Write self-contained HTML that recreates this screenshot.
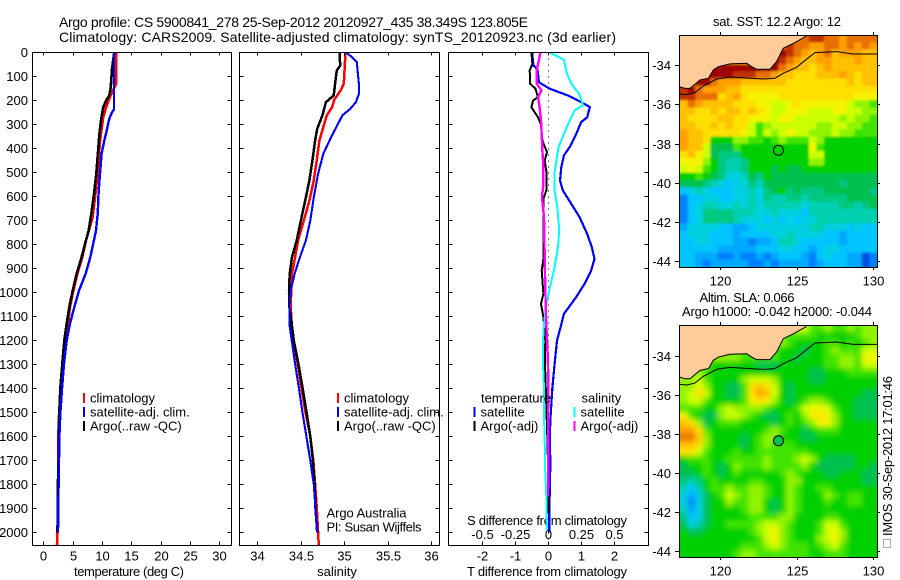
<!DOCTYPE html>
<html>
<head>
<meta charset="utf-8">
<title>Argo profile CS 5900841_278</title>
<style>
html,body{margin:0;padding:0;background:#fff;}
svg{display:block;font-family:"Liberation Sans",sans-serif;font-size:13px;fill:#000;}
text{fill:#000;}
</style>
</head>
<body>
<svg id="chart" width="900" height="580" viewBox="0 0 900 580" xmlns="http://www.w3.org/2000/svg">
<defs>
<filter id="sstBlur" x="-5%" y="-5%" width="110%" height="110%"><feGaussianBlur stdDeviation="1.1"/></filter>
<filter id="slaBlur" x="-5%" y="-5%" width="110%" height="110%"><feGaussianBlur stdDeviation="2.6"/></filter>
<clipPath id="sstClip"><rect x="680" y="35" width="197" height="232"/></clipPath>
<clipPath id="slaClip"><rect x="680" y="325" width="197" height="232"/></clipPath>
</defs>
<text x="59" y="27" font-size="14" textLength="469" lengthAdjust="spacing">Argo profile: CS 5900841_278 25-Sep-2012 20120927_435 38.349S 123.805E</text>
<text x="59" y="42" font-size="14" textLength="557" lengthAdjust="spacing">Climatology: CARS2009. Satellite-adjusted climatology: synTS_20120923.nc (3d earlier)</text>
<text x="129" y="576" text-anchor="middle" textLength="110" lengthAdjust="spacing">temperature (deg C)</text>
<text x="337" y="576" text-anchor="middle">salinity</text>
<text x="547" y="576" text-anchor="middle" textLength="160" lengthAdjust="spacing">T difference from climatology</text>
<text x="547" y="525" text-anchor="middle" textLength="160" lengthAdjust="spacing">S difference from climatology</text>
<text x="326.5" y="517.5" textLength="80" lengthAdjust="spacing">Argo Australia</text>
<text x="326.5" y="531.5" textLength="95" lengthAdjust="spacing">PI: Susan Wijffels</text>
<text x="777" y="26" font-size="13" text-anchor="middle" textLength="128" lengthAdjust="spacing">sat. SST: 12.2 Argo: 12</text>
<text x="747" y="302" font-size="13" text-anchor="middle" textLength="95" lengthAdjust="spacing">Altim. SLA: 0.066</text>
<text x="777" y="316" font-size="13" text-anchor="middle" textLength="190" lengthAdjust="spacing">Argo h1000: -0.042 h2000: -0.044</text>
<rect x="883.5" y="539.5" width="7" height="8" fill="none" stroke="#555" stroke-width="1" stroke-dasharray="1 1" shape-rendering="crispEdges"/>
<text transform="translate(892,536) rotate(-90)" textLength="160" lengthAdjust="spacing">IMOS 30-Sep-2012 17:01:46</text>
</svg>
<script>
// ---------- profile data (depth in dbar) ----------
const tempClimDepth = [0,130,186,228,270,367,505,603,686,783,853,922,1005,1061,1130,1200,1297,1401,1506,1600,1700,1800,1900,2000,2053];
const tempClim = [12.4,12.4,11.35,10.7,10.2,9.66,9.26,8.8,8.4,7.27,6.65,5.8,5.0,4.55,4.2,3.86,3.3,2.95,2.7,2.56,2.55,2.5,2.45,2.42,2.33];
const tempSatDepth = [0,150,237,249,276,325,367,422,505,575,672,742,797,853,922,992,1061,1130,1200,1297,1401,1506,1600,1700,1800,1900,2000];
const tempSat = [12.05,12.05,12.05,11.7,11.25,10.8,10.4,9.94,9.66,9.43,9.26,8.98,8.5,8.0,7.2,6.08,5.28,4.55,3.98,3.52,3.18,2.9,2.75,2.67,2.6,2.55,2.5];
const tempArgoDepth = [0,68,144,179,200,228,283,339,394,505,589,672,742,797,853,922,1005,1061,1130,1200,1297,1401,1506,1600,1700,1800,1900,2000];
const tempArgo = [12.1,11.7,11.5,11.25,10.7,10.2,9.83,9.55,9.38,9.03,8.64,8.18,7.73,7.1,6.53,5.68,4.89,4.43,3.98,3.58,3.24,2.9,2.73,2.6,2.6,2.48,2.45,2.42];

const salClimDepth = [0,130,158,194,228,262,311,367,436,533,617,700,783,853,922,992,1061,1130,1200,1297,1401,1506,1600,1700,1800,1900,2000,2053];
const salClim = [35.015,34.996,34.96,34.89,34.86,34.8,34.76,34.715,34.69,34.65,34.6,34.535,34.47,34.435,34.4,34.39,34.385,34.396,34.42,34.465,34.51,34.558,34.61,34.645,34.665,34.685,34.7,34.708];
const salSatDepth = [0,19,40,89,130,172,207,235,262,311,353,422,505,603,700,783,853,922,992,1061,1130,1200,1297,1401,1506,1600,1700,1800,1900,2000];
const salSat = [35.02,35.09,35.146,35.158,35.17,35.17,35.135,35.07,34.98,34.91,34.85,34.76,34.7,34.65,34.61,34.56,34.49,34.43,34.385,34.37,34.37,34.396,34.435,34.48,34.523,34.565,34.61,34.65,34.67,34.69];
const salArgoDepth = [0,54,75,130,179,207,262,318,367,436,533,603,686,783,853,922,992,1061,1130,1200,1297,1401,1506,1600,1700,1800,1900,2000];
const salArgo = [34.946,34.954,34.915,34.896,34.88,34.79,34.75,34.69,34.665,34.64,34.6,34.56,34.51,34.454,34.4,34.373,34.365,34.37,34.396,34.42,34.473,34.523,34.57,34.61,34.64,34.66,34.67,34.69];

const diffTempSatDepth = [0,54,68,124,151,179,214,228,270,290,339,394,429,478,533,575,630,686,756,811,860,908,964,1019,1089,1144,1200,1297,1401,1506,1600,1700,1800,1900,2000];
const diffTempSat = [-0.48,-0.44,-0.32,-0.27,0.05,0.6,1.1,1.26,1.18,1.0,0.85,0.65,0.48,0.4,0.36,0.45,0.7,0.95,1.18,1.32,1.4,1.3,1.1,0.85,0.48,0.38,0.27,0.2,0.13,0.08,0.05,0.07,0.06,0.04,0.04];
const diffTempArgoDepth = [0,47,75,130,151,186,200,228,270,297,367,415,450,505,575,610,714,853,908,1005,1047,1103,1200,1297,1600,1715,1800,1920];
const diffTempArgo = [-0.5,-0.47,-0.55,-0.54,-0.38,-0.3,-0.45,-0.5,-0.3,-0.22,-0.17,-0.03,-0.1,-0.04,-0.05,-0.14,-0.13,-0.13,-0.19,-0.14,-0.21,-0.14,-0.08,-0.09,-0.02,0,0.02,0.02];
const diffSalSatDepth = [0,17,31,89,130,172,220,241,276,339,394,450,505,575,644,742,811,894,964,1047,1130,1200,1297,1401,1506,1600,1715,1850,1990];
const diffSalSat = [0.0126,0.075,0.12,0.143,0.176,0.234,0.264,0.2,0.17,0.12,0.08,0.063,0.048,0.05,0.07,0.085,0.075,0.05,0.02,-0.013,-0.03,-0.038,-0.038,-0.03,-0.032,-0.025,-0.023,-0.013,-0.008];
const diffSalArgoDepth = [0,31,75,130,158,186,228,283,367,436,464,547,603,686,853,992,1130,1200,1297,1401,1506,1600,1715,1850];
const diffSalArgo = [-0.058,-0.068,-0.085,-0.085,-0.05,-0.075,-0.063,-0.053,-0.045,-0.04,-0.035,-0.035,-0.045,-0.03,-0.025,-0.02,-0.0125,-0.0075,0,0.002,0,0.002,0.002,0];

// ---------- tick labels ----------
const depthTicks = [0,100,200,300,400,500,600,700,800,900,1000,1100,1200,1300,1400,1500,1600,1700,1800,1900,2000];
const tempTicks = [0,5,10,15,20,25,30];
const salTicks = [34,34.5,35,35.5,36];
const diffTempTicks = [-2,-1,0,1,2];
const diffSalTicks = [-0.5,-0.25,0,0.25,0.5];
const lonTicks = [120,125,130];
const latTicks = [-34,-36,-38,-40,-42,-44];

// ---------- coast & shelf-edge contour (lon / lat) ----------
const coastLon = [117.32,117.69,118.02,118.67,119.22,119.54,119.87,120.63,121.72,122.05,122.37,123.25,123.68,124.12,124.77,125.64];
const coastLat = [-35.09,-35.18,-35.18,-34.75,-34.66,-34.24,-34.07,-33.93,-33.9,-34.07,-34.2,-34.2,-33.81,-33.13,-32.88,-32.5];
const shelfLon = [117.32,117.8,118.34,118.89,119.76,120.63,121.94,122.81,123.57,124.12,124.99,125.64,126.19,127.6,128.69,130.26];
const shelfLat = [-35.47,-35.5,-35.4,-35.06,-34.7,-34.6,-34.66,-34.7,-34.66,-34.41,-34.1,-33.69,-33.35,-33.3,-33.42,-33.42];
const floatLon = 123.805;
const floatLat = -38.349;
const floatSstLevel = 8;
const floatSlaLevel = 7;

// ---------- map cell values (colour-scale levels, rows north to south) ----------
const sstLevels = [
[14,14,14,14,14,14,14,14,14,14,14,14,14,14,14,16,16,17,17,16,16,15,16,16,16,16],
[14,14,14,14,14,14,14,14,14,14,14,14,14,16,17,16,16,15,15,16,16,15,16,15,16,15],
[14,14,14,14,14,14,14,14,14,14,14,14,14,18,17,16,15,14,15,16,14,15,15,15,14,14],
[14,14,14,14,14,14,14,14,14,14,14,14,18,17,16,15,14,14,15,15,14,14,14,15,14,14],
[14,14,14,14,18,18,18,18,18,18,18,18,18,16,15,14,14,13,14,15,14,14,14,14,14,14],
[14,14,14,18,18,18,18,17,17,17,16,16,15,14,14,13,13,13,14,14,14,15,14,13,14,14],
[14,14,18,18,16,15,15,15,14,14,14,14,14,14,13,13,13,13,13,13,13,13,14,13,14,14],
[17,18,16,15,15,15,14,14,13,13,13,13,13,13,13,13,13,13,13,13,13,13,13,13,13,13],
[17,17,16,16,16,13,14,15,13,12,12,12,12,13,13,13,13,13,13,13,13,13,13,12,12,12],
[14,16,15,14,14,14,14,13,13,13,12,12,11,11,12,13,12,12,12,12,12,12,11,10,10,9],
[14,14,13,13,14,13,14,14,13,14,13,12,11,11,12,12,12,11,11,11,12,12,11,11,10,10],
[14,13,13,13,13,14,14,13,13,12,12,12,11,12,12,11,11,11,11,11,11,10,11,10,10,9],
[14,14,13,13,14,13,14,13,13,11,9,10,11,11,11,11,11,11,10,10,11,11,10,10,9,9],
[15,14,14,13,13,13,13,13,12,11,9,11,10,11,12,11,11,10,10,10,11,10,10,9,9,9],
[15,14,14,13,8,8,8,10,10,9,9,8,9,10,9,9,9,11,10,8,8,8,8,8,8,8],
[15,14,14,11,7,7,7,9,8,8,8,8,8,8,8,8,8,12,9,8,8,8,8,8,8,8],
[13,14,12,11,7,6,6,6,8,8,8,8,8,8,8,8,8,11,11,8,8,8,8,8,8,8],
[12,12,12,10,8,6,5,5,6,8,8,8,8,8,8,8,8,10,10,8,8,8,8,8,8,8],
[11,12,11,9,8,6,5,5,6,8,8,8,7,8,7,7,8,8,8,8,8,8,8,8,8,8],
[8,8,9,8,7,6,4,4,5,7,6,8,7,7,7,7,7,7,7,7,7,7,7,7,7,7],
[7,7,7,6,5,4,3,4,4,6,5,7,7,7,7,7,7,7,7,7,7,6,7,7,7,7],
[3,4,5,4,3,3,3,4,4,5,4,6,7,8,6,7,6,6,6,7,7,7,7,7,7,6],
[1,3,3,4,4,3,3,4,4,5,4,6,5,5,6,6,5,6,6,6,6,6,7,7,7,7],
[1,3,4,5,5,4,4,5,4,5,4,5,5,5,5,5,4,5,5,5,5,6,6,5,6,7],
[1,3,4,6,6,6,6,5,5,5,4,4,5,4,4,4,3,5,5,5,5,5,5,5,5,5],
[1,3,4,6,6,6,6,5,4,4,4,3,4,3,4,3,4,4,5,5,5,5,5,5,5,5],
[2,4,4,4,4,3,3,2,2,3,4,4,4,4,4,4,4,5,5,4,4,4,3,4,3,3],
[3,4,4,4,3,3,3,2,3,3,3,3,4,4,5,4,4,4,4,3,3,2,3,3,3,3],
[3,3,4,4,3,3,3,2,2,1,2,2,3,5,5,4,3,3,3,3,3,2,3,3,3,3],
[3,3,3,3,3,2,2,2,2,2,3,3,3,4,4,3,3,2,3,4,4,3,3,3,3,3],
[3,3,2,2,2,1,1,2,1,1,2,1,2,3,3,3,2,1,3,4,3,3,2,2,0,1],
[3,3,2,1,2,2,2,2,2,1,1,2,1,2,2,2,2,1,2,3,3,3,2,2,0,1]
];
const slaLevels = [
[9,9,9,9,9,9,9,9,9,9,9,9,9,9,9,11,11,9,9,10,9,9,10,9,10,10],
[9,9,9,9,9,9,9,9,9,9,9,9,9,9,9,9,9,9,8,8,8,8,8,9,10,10],
[9,9,9,9,9,9,9,9,9,9,9,9,9,10,9,8,8,8,8,9,9,8,9,8,9,10],
[9,9,9,9,9,9,9,9,9,9,9,9,9,8,8,8,7,8,8,9,10,9,9,9,11,11],
[9,9,9,10,10,10,10,10,9,9,9,9,9,8,8,7,8,8,8,9,9,10,10,9,12,12],
[9,9,9,9,8,8,8,8,8,8,7,7,7,8,8,8,8,8,8,9,9,10,10,9,11,11],
[10,10,10,9,8,8,8,8,8,8,8,8,8,8,8,8,8,7,7,8,8,8,9,9,9,9],
[10,10,11,9,8,8,8,8,10,11,11,11,10,8,8,8,8,7,7,8,8,8,8,8,8,8],
[10,10,12,10,8,8,7,7,9,13,14,13,11,8,7,8,8,8,8,8,8,8,8,8,8,8],
[10,11,13,11,8,8,7,7,9,13,15,14,11,8,7,8,8,8,8,8,8,8,8,8,7,7],
[10,11,11,9,8,8,8,8,9,12,13,12,10,8,7,8,9,10,10,9,8,8,8,7,7,7],
[9,9,9,8,8,10,11,10,10,10,10,9,8,8,8,9,11,12,12,11,9,8,8,7,7,7],
[12,9,8,7,7,10,11,11,10,9,8,7,7,8,9,8,10,12,13,12,10,8,8,7,7,7],
[14,13,10,7,8,9,9,9,8,8,8,8,7,8,9,8,9,10,12,12,10,8,8,8,8,8],
[15,15,13,9,8,8,8,8,8,8,8,9,10,9,8,8,7,8,9,9,9,8,8,8,8,8],
[16,16,14,10,8,8,8,8,7,8,9,10,10,8,8,8,7,7,8,8,8,8,8,8,8,8],
[14,14,13,10,8,8,8,8,7,8,9,10,9,9,9,8,8,8,8,8,8,8,8,8,8,8],
[13,13,11,9,8,8,8,9,8,8,9,9,9,9,9,9,9,8,8,8,8,8,8,8,8,8],
[8,9,9,9,8,8,9,9,9,9,9,10,9,9,9,10,11,10,8,7,7,7,7,8,8,8],
[7,8,8,9,8,7,8,10,9,9,9,10,9,9,9,9,10,8,7,7,7,7,7,8,8,7],
[7,7,8,9,8,7,8,9,8,8,8,8,8,9,10,9,8,8,8,7,7,8,8,8,7,7],
[6,5,6,8,9,8,8,8,8,9,9,8,8,8,10,10,8,8,8,8,8,8,8,8,7,7],
[5,3,5,8,9,9,10,9,9,10,10,9,8,8,10,9,8,8,9,9,8,8,8,8,8,8],
[4,2,4,7,8,9,11,10,9,10,10,9,8,8,10,9,8,8,8,10,9,8,9,9,8,8],
[4,1,4,7,8,8,10,9,9,10,10,8,7,8,10,9,8,8,8,9,8,8,9,9,8,8],
[5,2,4,7,8,8,8,8,9,10,10,8,7,8,10,9,8,8,8,8,8,8,8,8,8,8],
[6,3,4,7,8,8,8,8,8,9,9,9,9,10,10,8,8,8,8,9,9,8,8,8,8,8],
[7,4,5,7,8,8,9,9,9,9,10,11,11,10,9,8,8,8,9,11,11,9,8,8,8,8],
[8,7,7,8,8,8,8,8,8,9,10,11,12,10,9,8,8,8,9,11,12,10,8,8,8,8],
[8,8,8,8,8,8,8,8,8,8,9,11,12,10,9,8,8,8,10,11,12,10,8,8,8,8],
[8,8,8,8,8,8,8,8,9,9,9,10,11,10,9,9,9,8,9,10,11,9,8,8,8,8],
[8,8,8,8,8,8,8,9,10,10,9,9,9,9,9,9,9,8,8,9,9,9,8,8,8,8]
];
const colourScale = ['#0050e0','#0080ff','#00a8ff','#00c4ff','#00d0e0','#00d0b0','#00c880','#00c050','#00d000','#40e400','#90f400','#ccff00','#f4f400','#ffe000','#ffc000','#ffa000','#e87000','#c03000','#a00000'];

// ---------- drawing ----------
const NS = 'http://www.w3.org/2000/svg';
const svg = document.getElementById('chart');
const yTop = 52.5, yBottom = 545.5;
const yDepth = d => 52.5 + 0.24 * d;
const xTemp = t => 43.3 + 5.87 * t;
const xSal = s => 257.3 + 86.85 * (s - 34);
const xDiffT = t => 548 + 33.2 * t;
const xDiffS = s => 548 + 132.8 * s;

function add(tag, parent) {
  const el = document.createElementNS(NS, tag);
  (parent || svg).appendChild(el);
  return el;
}
function profile(depths, values, xFn, colour, width, name) {
  const p = add('polyline');
  p.setAttribute('points', depths.map((d, i) => xFn(values[i]).toFixed(1) + ',' + yDepth(d).toFixed(1)).join(' '));
  p.setAttribute('fill', 'none');
  p.setAttribute('stroke', colour);
  p.setAttribute('stroke-width', width);
  p.setAttribute('shape-rendering', 'crispEdges');
  
  
}
function segment(x1, y1, x2, y2) {
  const l = add('line');
  l.setAttribute('x1', x1);
  l.setAttribute('y1', y1);
  l.setAttribute('x2', x2);
  l.setAttribute('y2', y2);
  l.setAttribute('stroke', '#000');
  l.setAttribute('stroke-width', 1);
  l.setAttribute('shape-rendering', 'crispEdges');
  
  
}
function label(x, y, str, anchor) {
  const t = add('text');
  t.setAttribute('x', x);
  t.setAttribute('y', y);
  t.setAttribute('text-anchor', anchor || 'middle');
  t.textContent = str;
  
  
}
function frame(x0, x1, y0, y1, name) {
  const r = add('rect');
  r.setAttribute('x', x0);
  r.setAttribute('y', y0);
  r.setAttribute('width', x1 - x0);
  r.setAttribute('height', y1 - y0);
  r.setAttribute('fill', 'none');
  r.setAttribute('stroke', '#000');
  r.setAttribute('stroke-width', 1);
  r.setAttribute('shape-rendering', 'crispEdges');
  
  
}
function depthAxis(x0, x1, showLabels) {
  depthTicks.forEach(d => {
    const y = Math.round(yDepth(d) - 0.5) + 0.5;
    segment(x0, y, x0 + 4, y);
    segment(x1 - 4, y, x1, y);
    if (showLabels) label(28, y + 4.5, String(d), 'end');
  });
}
function legendEntry(x, y, colour, str) {
  const m = add('rect');
  m.setAttribute('x', x);
  m.setAttribute('y', y - 5);
  m.setAttribute('width', 2);
  m.setAttribute('height', 10);
  m.setAttribute('fill', colour);
  
  
  const t = add('text');
  t.setAttribute('x', x + 7);
  t.setAttribute('y', y + 4.5);
  t.textContent = str;
  
  
}

// Panel 1: temperature
profile(tempClimDepth, tempClim, xTemp, '#ff0000', 2.6, 'temperature-climatology-line');
profile(tempArgoDepth, tempArgo, xTemp, '#000000', 2.6, 'temperature-argo-line');
profile(tempSatDepth, tempSat, xTemp, '#0000ff', 2.4, 'temperature-satellite-line');
frame(32.5, 231.5, yTop, yBottom, 'temperature-panel-frame');
depthAxis(32.5, 231.5, true);
tempTicks.forEach(t => {
  const x = Math.round(xTemp(t)) + 0.5;
  segment(x, yTop, x, yTop + 3);
  segment(x, yBottom - 4, x, yBottom);
  label(x, 560.5, String(t));
});
legendEntry(83, 398, '#ff0000', 'climatology');
legendEntry(83, 412, '#0000ff', 'satellite-adj. clim.');
legendEntry(83, 426, '#000000', 'Argo(..raw -QC)');

// Panel 2: salinity
profile(salClimDepth, salClim, xSal, '#ff0000', 2.5, 'salinity-climatology-line');
profile(salArgoDepth, salArgo, xSal, '#000000', 2.5, 'salinity-argo-line');
profile(salSatDepth, salSat, xSal, '#0000ff', 2.1, 'salinity-satellite-line');
frame(239.5, 439.5, yTop, yBottom, 'salinity-panel-frame');
depthAxis(239.5, 439.5, false);
salTicks.forEach(s => {
  const x = Math.round(xSal(s)) + 0.5;
  segment(x, yTop, x, yTop + 3);
  segment(x, yBottom - 4, x, yBottom);
  label(x, 560.5, String(s));
});
legendEntry(337, 398, '#ff0000', 'climatology');
legendEntry(337, 412, '#0000ff', 'satellite-adj. clim.');
legendEntry(337, 426, '#000000', 'Argo(..raw -QC)');

// Panel 3: differences
const zeroLine = add('line');
zeroLine.setAttribute('x1', xDiffT(0) + 0.5);
zeroLine.setAttribute('x2', xDiffT(0) + 0.5);
zeroLine.setAttribute('y1', yTop);
zeroLine.setAttribute('y2', yBottom);
zeroLine.setAttribute('stroke', '#000');
zeroLine.setAttribute('stroke-width', 1);
zeroLine.setAttribute('stroke-dasharray', '1 5');
zeroLine.setAttribute('shape-rendering', 'crispEdges');


profile(diffTempSatDepth, diffTempSat, xDiffT, '#0000ff', 2.2, 'temperature-diff-satellite-line');
profile(diffTempArgoDepth, diffTempArgo, xDiffT, '#000000', 2, 'temperature-diff-argo-line');
profile(diffSalSatDepth, diffSalSat, xDiffS, '#00ffff', 2, 'salinity-diff-satellite-line');
profile(diffSalArgoDepth, diffSalArgo, xDiffS, '#ff00ff', 2.4, 'salinity-diff-argo-line');
frame(448.5, 648.5, yTop, yBottom, 'difference-panel-frame');
depthAxis(448.5, 648.5, false);
diffTempTicks.forEach(t => {
  const x = Math.round(xDiffT(t)) + 0.5;
  segment(x, yTop, x, yTop + 3);
  segment(x, yBottom - 4, x, yBottom);
  label(x, 560.5, String(t));
});
diffSalTicks.forEach(s => {
  label(Math.round(xDiffS(s)) + 0.5, 539, String(s));
});
const tempHeader = add('text');
tempHeader.setAttribute('x', 481);
tempHeader.setAttribute('y', 402.5);
tempHeader.textContent = 'temperature';


const salHeader = add('text');
salHeader.setAttribute('x', 581.5);
salHeader.setAttribute('y', 402.5);
salHeader.textContent = 'salinity';


legendEntry(473.5, 412, '#0000ff', 'satellite');
legendEntry(473.5, 426, '#000000', 'Argo(-adj)');
legendEntry(573.5, 412, '#00ffff', 'satellite');
legendEntry(573.5, 426, '#ff00ff', 'Argo(-adj)');

// Maps
function drawMap(levels, top, bottom, lat34, name, clipId, blurId, markerLevel) {
  const xLon = lon => 720.3 + 15.3 * (lon - 120);
  const yLat = lat => lat34 + 19.55 * (-34 - lat);
  const left = 680, right = 877;
  const cols = levels[0].length, rows = levels.length;
  const cw = (right - left) / cols, ch = (bottom - top) / rows;
  const clipGroup = add('g');
  clipGroup.setAttribute('clip-path', 'url(#' + clipId + ')');
  
  
  const blurGroup = add('g', clipGroup);
  blurGroup.setAttribute('filter', 'url(#' + blurId + ')');
  
  
  levels.forEach((row, j) => {
    row.forEach((v, i) => {
      const pad = 10;
      const x0 = left + i * cw - (i === 0 ? pad : 0);
      const x1 = left + (i + 1) * cw + (i === cols - 1 ? pad : 0.5);
      const y0 = top + j * ch - (j === 0 ? pad : 0);
      const y1 = top + (j + 1) * ch + (j === rows - 1 ? pad : 0.5);
      const c = add('rect', blurGroup);
      c.setAttribute('x', x0.toFixed(2));
      c.setAttribute('y', y0.toFixed(2));
      c.setAttribute('width', (x1 - x0).toFixed(2));
      c.setAttribute('height', (y1 - y0).toFixed(2));
      c.setAttribute('fill', colourScale[v]);
      
      
    });
  });
  const land = add('polygon');
  const coastPts = coastLon.map((lo, i) => xLon(lo).toFixed(1) + ',' + yLat(coastLat[i]).toFixed(1));
  land.setAttribute('points', coastPts.join(' ') + ' ' + xLon(coastLon[coastLon.length - 1]).toFixed(1) + ',' + top + ' 679.5,' + top);
  land.setAttribute('fill', '#ffcc99');
  
  
  const coast = add('polyline');
  coast.setAttribute('points', coastPts.join(' '));
  coast.setAttribute('fill', 'none');
  coast.setAttribute('stroke', '#000');
  coast.setAttribute('stroke-width', 1);
  
  
  const shelf = add('polyline');
  shelf.setAttribute('points', shelfLon.map((lo, i) => xLon(lo).toFixed(1) + ',' + yLat(shelfLat[i]).toFixed(1)).join(' '));
  shelf.setAttribute('fill', 'none');
  shelf.setAttribute('stroke', '#000');
  shelf.setAttribute('stroke-width', 1);
  
  
  const marker = add('circle');
  marker.setAttribute('cx', xLon(floatLon).toFixed(1));
  marker.setAttribute('cy', yLat(floatLat).toFixed(1));
  marker.setAttribute('r', 5);
  marker.setAttribute('fill', colourScale[markerLevel]);
  marker.setAttribute('stroke', '#000');
  marker.setAttribute('stroke-width', 1);
  
  
  frame(679.5, 877.5, top + 0.5, bottom + 0.5, name + '-frame');
  lonTicks.forEach(lon => {
    const x = Math.round(xLon(lon)) + 0.5;
    segment(x, top - 3, x, top);
    segment(x, bottom, x, bottom + 3);
    label(x, bottom + 18.5, String(lon));
  });
  latTicks.forEach(lat => {
    const y = Math.round(yLat(lat)) + 0.5;
    segment(675, y, 679.5, y);
    segment(877.5, y, 880, y);
    label(671, y + 4.5, String(lat), 'end');
  });
}
drawMap(sstLevels, 35, 267, 65.3, 'sst-map', 'sstClip', 'sstBlur', floatSstLevel);
drawMap(slaLevels, 325, 557, 355.7, 'sla-map', 'slaClip', 'slaBlur', floatSlaLevel);
</script>
</body>
</html>
